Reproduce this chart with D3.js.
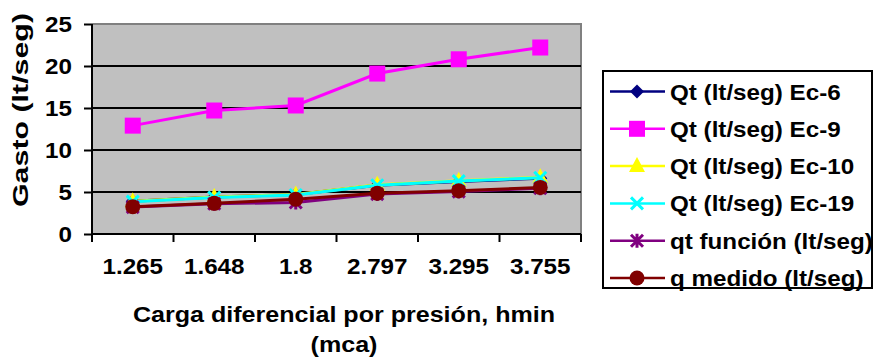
<!DOCTYPE html>
<html><head><meta charset="utf-8">
<script src="https://cdn.jsdelivr.net/npm/d3@7"></script>
<style>body{margin:0;background:#fff}svg text{font-family:"Liberation Sans",Arial,sans-serif;font-weight:bold;fill:#000}</style>
</head><body><svg id="c" width="874" height="358"></svg>
<script>
const categories = ["1.265","1.648","1.8","2.797","3.295","3.755"];
const ec6  = [3.9, 4.4, 4.7, 5.8, 6.25, 6.65];
const ec9  = [12.9, 14.7, 15.3, 19.1, 20.8, 22.2];
const ec10 = [3.9, 4.4, 4.7, 5.85, 6.35, 6.75];
const ec19 = [3.85, 4.35, 4.65, 5.8, 6.3, 6.7];
const qtf  = [3.2, 3.6, 3.75, 4.75, 5.05, 5.45];
const qm   = [3.25, 3.65, 4.15, 4.85, 5.15, 5.55];
const yTicks = [0,5,10,15,20,25];
const seriesNames = ["Qt (lt/seg) Ec-6","Qt (lt/seg) Ec-9","Qt (lt/seg) Ec-10","Qt (lt/seg) Ec-19","qt función (lt/seg)","q medido (lt/seg)"];
const seriesColors = ["#000080","#FF00FF","#FFFF00","#00FFFF","#800080","#800000"];
const seriesMarkers = ["diamond","square","triangle","x","star","circle"];
const seriesValues = [ec6, ec9, ec10, ec19, qtf, qm];

const svg = d3.select("#c");
const L=92,R=581,T=24,B=234;
const x = d3.scaleBand().domain(categories).range([L,R]).padding(0);
const y = d3.scaleLinear().domain([0,25]).range([B,T]);
const sx = 1.1;

svg.append("rect").attr("x",L).attr("y",T).attr("width",R-L).attr("height",B-T).attr("fill","#C0C0C0");
svg.append("path").attr("d",`M${L},${T}H${R}V${B}`).attr("fill","none").attr("stroke","#808080").attr("stroke-width",2);
svg.append("g").selectAll("line").data(yTicks.filter(d=>d>0 && d<25)).join("line")
  .attr("x1",L).attr("x2",R).attr("y1",d=>y(d)).attr("y2",d=>y(d)).attr("stroke","#000").attr("stroke-width",2);

const yAxis = svg.append("g").attr("transform",`translate(${L},0)`)
  .call(d3.axisLeft(y).tickValues(yTicks).tickSize(8).tickPadding(12));
const xAxis = svg.append("g").attr("transform",`translate(0,${B})`)
  .call(d3.axisBottom(x).tickSize(8).tickPadding(16));
xAxis.selectAll(".tick line").remove();
svg.append("g").selectAll("line").data(categories.concat(["end"])).join("line")
  .attr("x1",(d,i)=>L+i*x.bandwidth()).attr("x2",(d,i)=>L+i*x.bandwidth())
  .attr("y1",B).attr("y2",B+8).attr("stroke","#000").attr("stroke-width",2);
[yAxis,xAxis].forEach(a=>{
  a.select(".domain").attr("stroke","#000").attr("stroke-width",2);
  a.selectAll(".tick line").attr("stroke","#000").attr("stroke-width",2);
  a.selectAll("text").attr("font-size",22).attr("font-family",'"Liberation Sans",Arial,sans-serif').attr("font-weight","bold").attr("fill","#000");
});
yAxis.select(".domain").attr("d",`M0,${B}V${T}`);
xAxis.select(".domain").attr("d",`M${L},0H${R}`);
xAxis.selectAll(".tick text").attr("transform",`scale(${sx},1)`).attr("x",0);
yAxis.selectAll(".tick text").each(function(){
  const t=d3.select(this); const xx=+t.attr("x"); t.attr("transform",`translate(${xx},0) scale(${sx},1)`).attr("x",0);
});

function marker(g, type, color, cx, cy){
  if(type==="diamond"){
    g.append("path").attr("d",`M${cx},${cy-7}L${cx+7},${cy}L${cx},${cy+7}L${cx-7},${cy}Z`).attr("fill",color);
  } else if(type==="square"){
    g.append("rect").attr("x",cx-8).attr("y",cy-8).attr("width",16).attr("height",16).attr("fill",color);
  } else if(type==="triangle"){
    g.append("path").attr("d",`M${cx},${cy-9}L${cx+8},${cy+6}L${cx-8},${cy+6}Z`).attr("fill",color);
  } else if(type==="x"){
    g.append("path").attr("d",`M${cx-6},${cy-6}L${cx+6},${cy+6}M${cx+6},${cy-6}L${cx-6},${cy+6}`).attr("stroke",color).attr("stroke-width",3);
  } else if(type==="star"){
    g.append("path").attr("d",`M${cx-6},${cy-6}L${cx+6},${cy+6}M${cx+6},${cy-6}L${cx-6},${cy+6}M${cx},${cy-7}V${cy+7}`).attr("stroke",color).attr("stroke-width",3);
  } else {
    g.append("circle").attr("cx",cx).attr("cy",cy).attr("r",7.5).attr("fill",color);
  }
}

const line = d3.line().x((d,i)=>x(categories[i])+x.bandwidth()/2).y(d=>y(d));
seriesValues.forEach((vals,si)=>{
  const g = svg.append("g");
  g.append("path").attr("d",line(vals)).attr("fill","none").attr("stroke",seriesColors[si]).attr("stroke-width",3);
  vals.forEach((v,i)=>marker(g, seriesMarkers[si], seriesColors[si], x(categories[i])+x.bandwidth()/2, y(v)));
});

function htext(txt, cx, by, size){
  svg.append("text").attr("transform",`translate(${cx},${by}) scale(${sx},1)`).attr("text-anchor","middle").attr("font-size",size).text(txt);
}
htext("Carga diferencial por presión, hmin",344,322,22.8);
htext("(mca)",344,352,22.8);
svg.append("text").attr("transform","translate(28,110) rotate(-90)").attr("text-anchor","middle")
  .attr("font-size",22).attr("textLength",194).attr("lengthAdjust","spacingAndGlyphs").text("Gasto (lt/seg)");

const lg = svg.append("g");
lg.append("rect").attr("x",603).attr("y",71).attr("width",269).attr("height",217).attr("fill","#fff").attr("stroke","#000").attr("stroke-width",2);
seriesNames.forEach((n,i)=>{
  const ly = 91.5 + i*37.3;
  lg.append("line").attr("x1",610).attr("x2",665).attr("y1",ly).attr("y2",ly).attr("stroke",seriesColors[i]).attr("stroke-width",2.5);
  marker(lg, seriesMarkers[i], seriesColors[i], 637, ly);
  lg.append("text").attr("transform",`translate(670,${ly+8}) scale(${sx},1)`).attr("font-size",22).text(n);
});
</script></body></html>
